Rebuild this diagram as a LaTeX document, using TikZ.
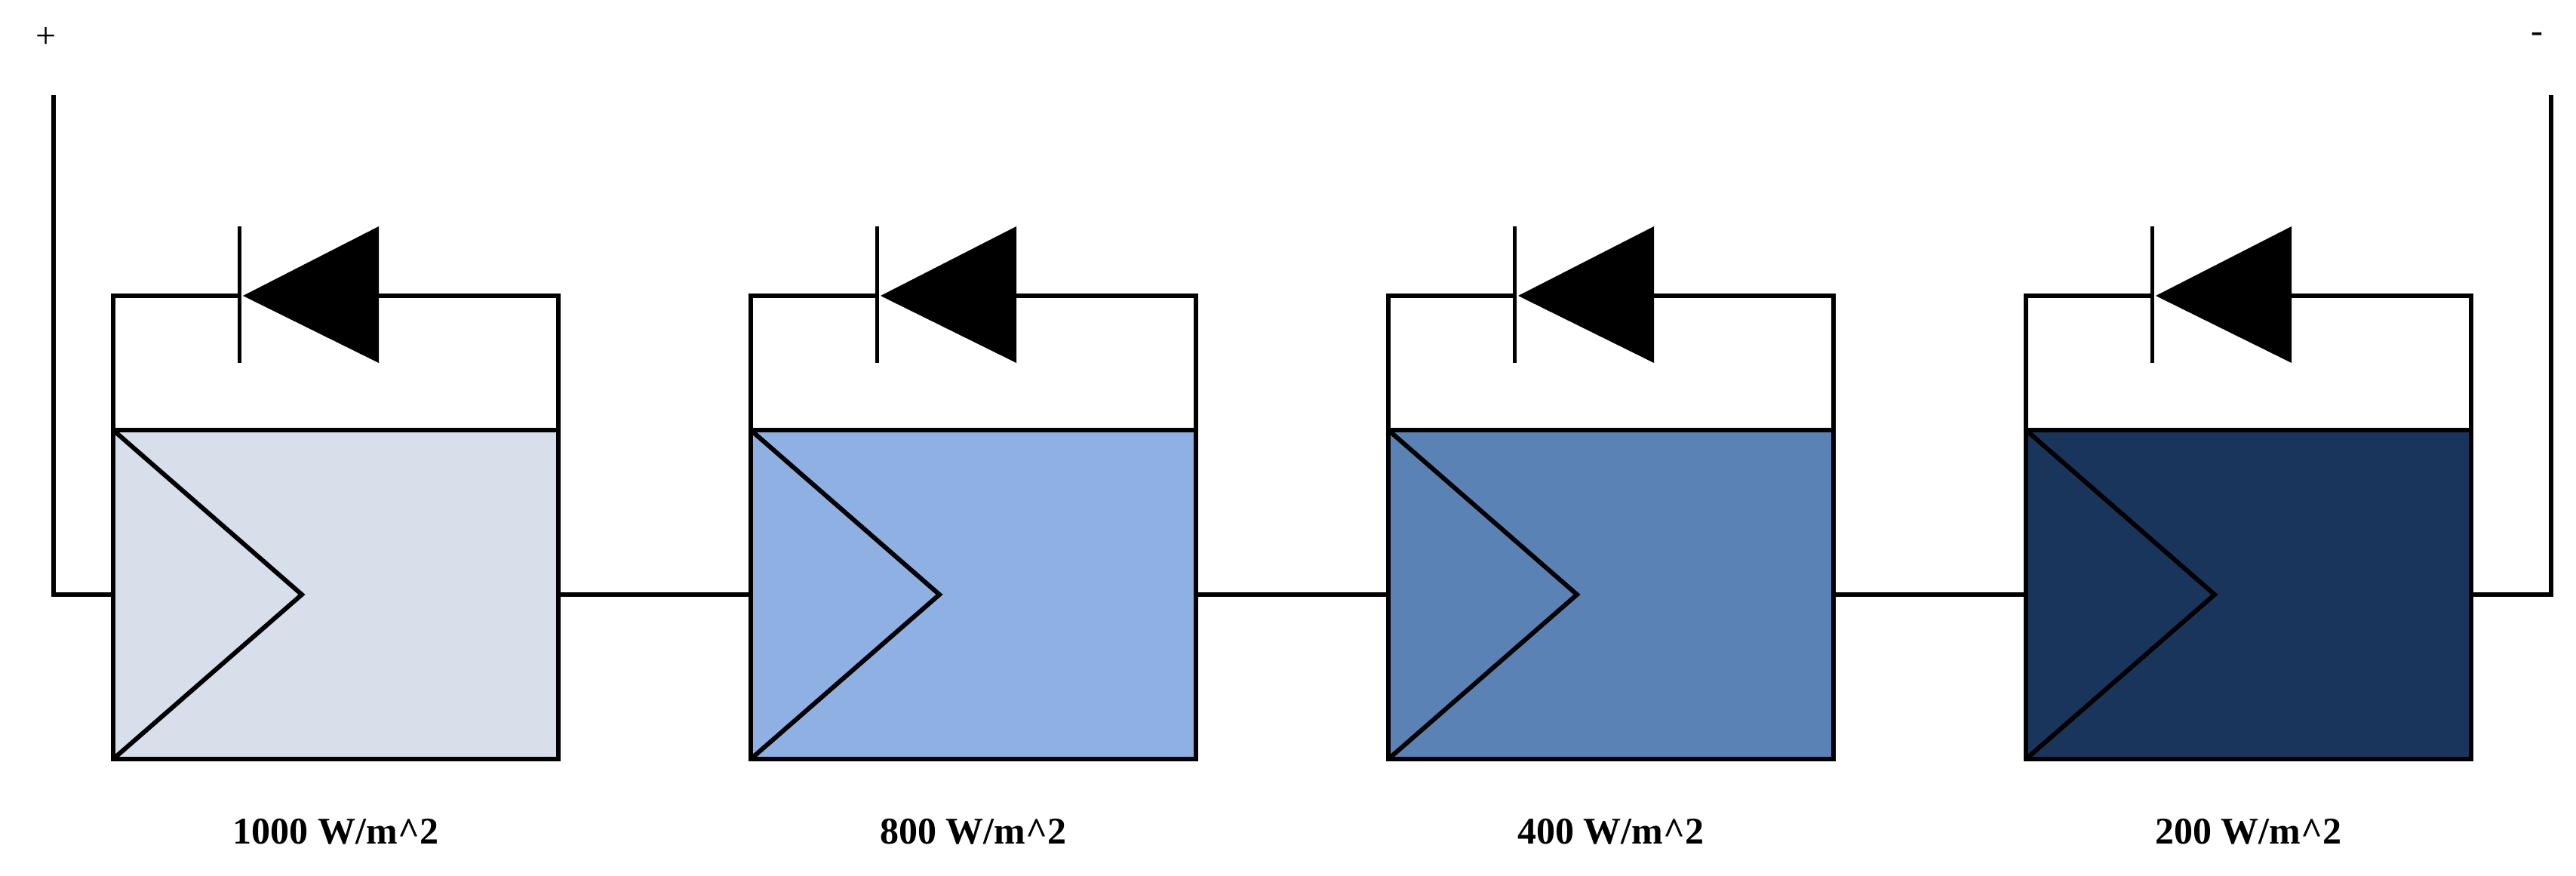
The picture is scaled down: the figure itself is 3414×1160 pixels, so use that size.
\documentclass[tikz,border=0pt]{standalone}
\usepackage{fontspec}
\setmainfont{Liberation Serif}
\begin{document}
\begin{tikzpicture}[x=1pt,y=-1pt,line width=6pt,
  wire/.style={draw=black,line width=6pt},
  lbl/.style={font=\fontsize{50}{60}\selectfont\bfseries,inner sep=0pt}]
\useasboundingbox (0,0) rectangle (3414,1160);
\fill[white] (0,0) rectangle (3414,1160);
\foreach \i/\c/\t in {0/D6DFEA/1000, 1/8EB0E3/800, 2/5B82B5/400, 3/1A355C/200}{
  \begin{scope}[xshift=\i*845]
    \definecolor{fc}{HTML}{\c}
    \fill[fc] (150,570) rectangle (740,1006);
    \draw[wire] (150,570) rectangle (740,1006);
    \draw[wire] (150,570) -- (400,788) -- (150,1006);
    \draw[wire] (150,570) -- (150,392) -- (317,392);
    \draw[wire] (502,392) -- (740,392) -- (740,570);
    \draw[line width=5pt] (317,300) -- (317,481);
    \fill (322,392) -- (502,300) -- (502,481) -- cycle;
    \node[lbl] at (445,1102) {\t\ W/m\^{}2};
  \end{scope}
}
\foreach \i in {0,1,2}{
  \draw[wire] (740+\i*845,788) -- (150+\i*845+845,788);
}
\draw[wire] (71,126) -- (71,788) -- (150,788);
\draw[wire] (3275,788) -- (3381,788) -- (3381,126);
\node[font=\fontsize{48}{56}\selectfont] at (61,50) {+};
\node[font=\fontsize{48}{56}\selectfont] at (3362,50) {-};
\end{tikzpicture}
\end{document}
